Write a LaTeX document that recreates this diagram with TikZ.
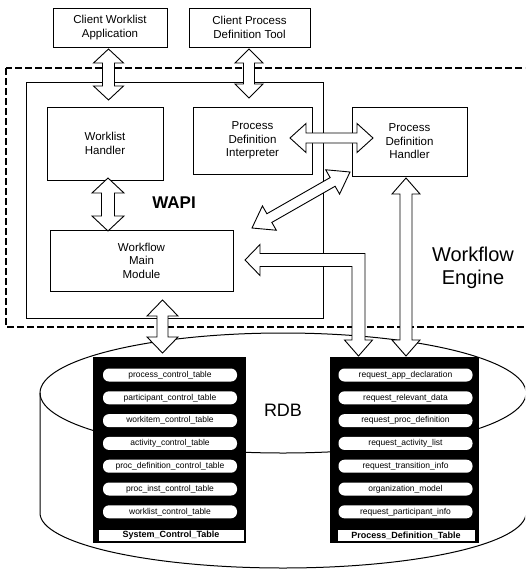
\documentclass[tikz,border=0pt]{standalone}
\usepackage{fontspec}
\setmainfont{Liberation Sans}
\usetikzlibrary{calc}

\tikzset{
  box/.style={draw, line width=1pt, fill=white, align=center, inner sep=0pt,
    font=\fontsize{11.5}{13.5}\selectfont},
  fat/.style={draw, line width=0.9pt, fill=white, line join=miter},
  pill/.style={fill=white, rounded corners=6pt, minimum width=134pt,
    minimum height=13pt, inner sep=0pt, font=\fontsize{8.5}{9}\selectfont},
  tlabel/.style={draw=black, fill=white, line width=0.6pt, minimum height=11.5pt,
    inner sep=0pt, font=\bfseries\fontsize{9}{9}\selectfont},
  tbl/.style={fill=black, inner sep=0pt, anchor=north west},
  engine/.style={draw, line width=1.1pt, dash pattern=on 7pt off 3pt},
  cyl/.style={draw, line width=1pt},
}

% double block arrow between two tips: #1,#2 tips, #3 shaft half width, #4 head half width, #5 head length
\newcommand\fatarrow[5]{%
  \filldraw[fat] (#1)
   -- ($(#1)!#5!(#2)!#4!90:(#2)$)
   -- ($(#1)!#5!(#2)!#3!90:(#2)$)
   -- ($(#2)!#5!(#1)!#3!-90:(#1)$)
   -- ($(#2)!#5!(#1)!#4!-90:(#1)$)
   -- (#2)
   -- ($(#2)!#5!(#1)!#4!90:(#1)$)
   -- ($(#2)!#5!(#1)!#3!90:(#1)$)
   -- ($(#1)!#5!(#2)!#3!-90:(#2)$)
   -- ($(#1)!#5!(#2)!#4!-90:(#2)$)
   -- cycle;}

\begin{document}
\begin{tikzpicture}[x=1pt,y=-1pt]
\useasboundingbox (0,0) rectangle (525,570);
\clip (0,0) rectangle (525,570);
\fill[white] (0,0) rectangle (525,570);

% workflow engine (dashed) and WAPI area
\draw[engine] (6,68) rectangle (545,327);
\draw[line width=1pt] (26,82) rectangle (323,318);

% boxes
\node[box, minimum width=114pt, minimum height=39pt] (cwa) at (110,27.5) {Client Worklist\\Application};
\node[box, minimum width=121pt, minimum height=39pt] (cpd) at (249.5,27.5) {Client Process\\Definition Tool};
\node[box, minimum width=116pt, minimum height=73pt] (wh) at (105,143.5) {Worklist\\Handler};
\node[box, minimum width=119pt, minimum height=67pt] (pdi) at (252.5,140.5) {Process\\Definition\\Interpreter};
\node[box, minimum width=115pt, minimum height=69pt] (pdh) at (409.5,141.5) {Process\\Definition\\Handler};
\node[box, minimum width=183pt, minimum height=61pt] (wmm) at (141.5,260.5) {Workflow\\Main\\Module};

\node[font=\bfseries\fontsize{17}{17}\selectfont] (wapi) at (174,203) {WAPI};
\node[align=center, font=\fontsize{20}{23}\selectfont] (we) at (473,268) {Workflow\\Engine};

% RDB cylinder
\draw[cyl] (40,393) -- (40,513) arc[start angle=180, end angle=360, x radius=243pt, y radius=55pt] -- (526,393);
\draw[cyl] (283,393) ellipse [x radius=243pt, y radius=60pt];
\node[font=\fontsize{18}{18}\selectfont] (rdb) at (283,410) {RDB};

% tables
\node[tbl, minimum width=153pt, minimum height=186pt] (sct) at (93,357) {};
\node[tbl, minimum width=149pt, minimum height=186pt] (pdt) at (330,357) {};
\foreach \t [count=\i] in {process\_control\_table, participant\_control\_table,
  workitem\_control\_table, activity\_control\_table, proc\_definition\_control\_table,
  proc\_inst\_control\_table, worklist\_control\_table}
  \node[pill] (s\i) at (170,{375+(\i-1)*22.8}) {\t};
\foreach \t [count=\i] in {request\_app\_declaration, request\_relevant\_data,
  request\_proc\_definition, request\_activity\_list, request\_transition\_info,
  organization\_model, request\_participant\_info}
  \node[pill] (p\i) at (405.5,{375+(\i-1)*22.8}) {\t};
\node[tlabel, minimum width=146pt] (slab) at (171,535.5) {System\_Control\_Table};
\node[tlabel, minimum width=138pt] (plab) at (406,535.5) {Process\_Definition\_Table};

% block arrows
\coordinate (a1t) at (108.5,49);  \coordinate (a1b) at (108.5,100);
\coordinate (a2t) at (249,49);    \coordinate (a2b) at (249,98);
\coordinate (a3t) at (108,178);   \coordinate (a3b) at (108,231);
\coordinate (a4l) at (290,138);   \coordinate (a4r) at (373,138);
\coordinate (a5t) at (406,178);   \coordinate (a5b) at (406,356);
\coordinate (a6t) at (162.5,300); \coordinate (a6b) at (162.5,353);
\coordinate (a7a) at (252,228);   \coordinate (a7b) at (350,172);
\fatarrow{a1t}{a1b}{6pt}{15pt}{14pt}
\fatarrow{a2t}{a2b}{5.5pt}{14pt}{14pt}
\fatarrow{a3t}{a3b}{6.5pt}{16pt}{15pt}
\fatarrow{a4l}{a4r}{5pt}{14.5pt}{16pt}
\fatarrow{a5t}{a5b}{6pt}{14pt}{16pt}
\fatarrow{a6t}{a6b}{5.5pt}{15.5pt}{16pt}
\fatarrow{a7a}{a7b}{5pt}{14pt}{20pt}

% L-shaped arrow between Workflow Main Module and Process_Definition_Table
\coordinate (l1) at (245,260);
\coordinate (l2) at (358.5,356);
\filldraw[fat] (l1) -- (260,244.5) -- (260,253.5) -- (365,253.5) -- (365,340)
  -- (372.5,340) -- (l2) -- (344.5,340) -- (352,340) -- (352,266.5)
  -- (260,266.5) -- (260,275.5) -- cycle;
\end{tikzpicture}
\end{document}
